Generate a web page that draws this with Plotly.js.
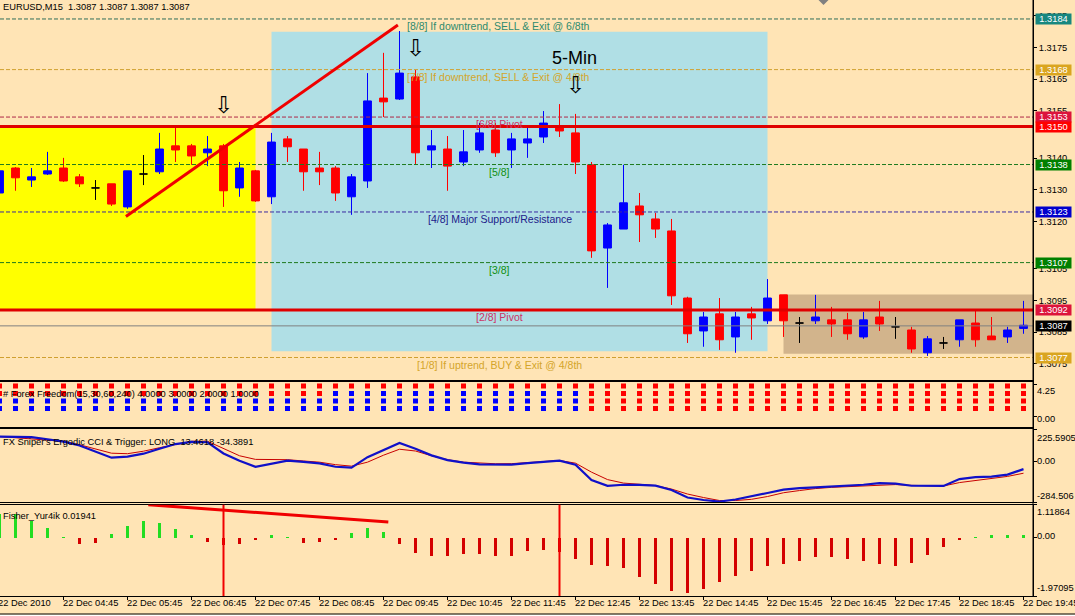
<!DOCTYPE html>
<html><head><meta charset="utf-8">
<script src="https://cdn.plot.ly/plotly-3.0.1.min.js"></script>
<style>html,body{margin:0;padding:0;background:#FFE4B5;}#chart{width:1075px;height:616px;}</style>
</head><body><div id="chart"></div>
<script>
// ---------- DATA ----------
const times = ['03:45','04:00','04:15','04:30','04:45','05:00','05:15','05:30','05:45','06:00','06:15','06:30','06:45','07:00','07:15','07:30','07:45','08:00','08:15','08:30','08:45','09:00','09:15','09:30','09:45','10:00','10:15','10:30','10:45','11:00','11:15','11:30','11:45','12:00','12:15','12:30','12:45','13:00','13:15','13:30','13:45','14:00','14:15','14:30','14:45','15:00','15:15','15:30','15:45','16:00','16:15','16:30','16:45','17:00','17:15','17:30','17:45','18:00','18:15','18:30','18:45','19:00','19:15','19:30','19:45'];

const openP = [1.31290,1.31369,1.31331,1.31350,1.31369,1.31341,1.31306,1.31319,1.31246,1.31350,1.31357,1.31439,1.31439,1.31417,1.31439,1.31306,1.31360,1.31278,1.31461,1.31429,1.31369,1.31369,1.31278,1.31328,1.31590,1.31587,1.31657,1.31426,1.31429,1.31388,1.31426,1.31489,1.31426,1.31448,1.31467,1.31499,1.31480,1.31379,1.31116,1.31176,1.31249,1.31208,1.31170,1.30958,1.30854,1.30908,1.30835,1.30908,1.30886,1.30968,1.30879,1.30886,1.30889,1.30889,1.30835,1.30898,1.30867,1.30857,1.30785,1.30816,1.30826,1.30879,1.30838,1.30835,1.30862];
const highP = [1.31366,1.31372,1.31369,1.31420,1.31401,1.31350,1.31331,1.31319,1.31360,1.31410,1.31480,1.31496,1.31445,1.31470,1.31445,1.31388,1.31363,1.31480,1.31470,1.31429,1.31420,1.31375,1.31350,1.31669,1.31733,1.31802,1.31679,1.31489,1.31470,1.31489,1.31511,1.31511,1.31480,1.31496,1.31549,1.31571,1.31540,1.31388,1.31195,1.31379,1.31290,1.31227,1.31208,1.30962,1.30914,1.30958,1.30914,1.30930,1.31018,1.30968,1.30898,1.30968,1.30930,1.30911,1.30914,1.30949,1.30898,1.30867,1.30838,1.30835,1.30889,1.30920,1.30898,1.30867,1.30949];
const lowP = [1.31280,1.31297,1.31309,1.31347,1.31325,1.31309,1.31268,1.31249,1.31240,1.31315,1.31350,1.31388,1.31379,1.31375,1.31246,1.31278,1.31262,1.31255,1.31388,1.31297,1.31315,1.31265,1.31221,1.31306,1.31530,1.31584,1.31379,1.31369,1.31297,1.31375,1.31417,1.31404,1.31369,1.31401,1.31448,1.31467,1.31350,1.31085,1.30990,1.31176,1.31135,1.31148,1.30936,1.30816,1.30804,1.30794,1.30785,1.30826,1.30876,1.30835,1.30816,1.30876,1.30835,1.30826,1.30829,1.30854,1.30829,1.30785,1.30775,1.30797,1.30804,1.30804,1.30826,1.30816,1.30845];
const closeP = [1.31360,1.31338,1.31341,1.31360,1.31328,1.31319,1.31306,1.31255,1.31360,1.31350,1.31429,1.31426,1.31407,1.31429,1.31297,1.31369,1.31265,1.31451,1.31436,1.31357,1.31357,1.31290,1.31341,1.31581,1.31578,1.31669,1.31417,1.31439,1.31375,1.31420,1.31480,1.31417,1.31461,1.31461,1.31511,1.31486,1.31388,1.31107,1.31189,1.31259,1.31221,1.31176,1.30965,1.30845,1.30898,1.30826,1.30898,1.30895,1.30958,1.30886,1.30879,1.30898,1.30876,1.30845,1.30889,1.30876,1.30867,1.30797,1.30829,1.30816,1.30889,1.30826,1.30826,1.30857,1.30872];

// Forex Freedom rows (R = red / down, B = blue / up), value 4 row at top
const ffRow4 = 'RRRRRRRRRRRRRRRRRRRRRRRRRRRRRRRRRRRRRRRRRRRRRRRRRRRRRRRRRRRRRRRRR';
const ffRow3 = 'RRRRRRRRRRRRRRRRRRRRRBBBBBBBBBBBBBBBBRRRRRRRRRRRRRRRRRRRRRRRRRRRR';
const ffRow2 = 'BBBBBBBBBBBBBBBBBBBBBBBBBBBBBBBBBBBBBRRRRRRRRRRRRRRRRRRRRRRRRRRRR';
const ffRow1 = 'BBBBBBBBBBBBBBBBBBBBBBBBBBBBBBBBBBBBBRRRRRRRRRRRRRRRRRRRRRRRRRRRR';

const ergodic = [174.6,172.5,170.4,155.7,139.6,111.7,68.4,26.4,33.4,54.4,88.8,122.2,136.9,134.7,55.8,5.5,-37.9,-16.9,5.5,-3.6,-14.1,-37.2,-43.5,29.9,80.2,129.2,89.3,42.5,9.0,-8.5,-20.4,-22.5,-21.8,-12.0,-1.5,5.5,-22.5,-130.8,-170.6,-163.6,-164.3,-169.9,-200.7,-253.1,-270.5,-281.0,-267.0,-246.1,-221.6,-197.2,-186.7,-181.8,-176.2,-171.3,-163.6,-152.5,-156.0,-170.6,-172.0,-172.0,-123.8,-109.8,-106.3,-92.4,-54.0];
const trigger = [174.6,167.6,160.6,152.2,141.7,117.3,85.8,57.9,54.4,71.9,96.3,117.3,141.7,141.7,88.8,39.9,14.5,12.1,12.4,3.4,-5.0,-22.5,-33.0,-5.0,43.9,85.8,73.2,39.9,12.4,-5.0,-12.0,-16.2,-15.5,-7.1,0.6,6.9,-12.0,-74.9,-127.3,-151.8,-160.2,-169.2,-193.7,-228.6,-253.1,-274.1,-274.1,-265.7,-246.1,-219.5,-204.2,-190.2,-181.8,-176.2,-173.4,-167.1,-162.2,-167.8,-172.0,-172.0,-148.2,-133.6,-120.3,-105.0,-82.6];
const fisher = [0.82,0.80,0.58,0.33,0.03,-0.21,-0.17,0.12,0.41,0.58,0.49,0.29,0.08,-0.14,-0.26,-0.21,-0.09,0.08,0.03,-0.17,-0.13,-0.08,0.15,0.32,0.18,-0.21,-0.53,-0.62,-0.62,-0.56,-0.56,-0.61,-0.61,-0.45,-0.41,-0.49,-0.72,-0.93,-0.97,-1.01,-1.32,-1.56,-1.81,-1.88,-1.72,-1.50,-1.29,-1.11,-0.97,-0.90,-0.80,-0.66,-0.66,-0.72,-0.78,-0.88,-0.97,-0.84,-0.58,-0.32,-0.09,0.03,0.08,0.09,0.11];

// Murrey math levels
const levelPrices = [1.3184,1.3168,1.3153,1.3138,1.3123,1.3107,1.3092,1.3077];
const levelLabels = ['[8/8] If downtrend, SELL & Exit @ 6/8th','[7/8] If downtrend, SELL & Exit @ 4/8th','[6/8] Pivot','[5/8]','[4/8] Major Support/Resistance','[3/8]','[2/8] Pivot','[1/8] If uptrend, BUY & Exit @ 4/8th'];
const pivotPrices = [1.3150,1.3092];
const bidPrice = 1.3087;
const boxPrices = [1.3184,1.3168,1.3153,1.3150,1.3138,1.3123,1.3107,1.3092,1.3087,1.3077];
const boxTexts  = ['1.3184','1.3168','1.3153','1.3150','1.3138','1.3123','1.3107','1.3092','1.3087','1.3077'];

// price-scale tick labels
const priceTicks = [1.3185,1.3175,1.3165,1.3155,1.3140,1.3130,1.3120,1.3105,1.3095,1.3085,1.3075];

// time-axis labels
const timeTickAt = ['03:45','04:45','05:45','06:45','07:45','08:45','09:45','10:45','11:45','12:45','13:45','14:45','15:45','16:45','17:45','18:45','19:45'];
const timeTickText = ['22 Dec 2010','22 Dec 04:45','22 Dec 05:45','22 Dec 06:45','22 Dec 07:45','22 Dec 08:45','22 Dec 09:45','22 Dec 10:45','22 Dec 11:45','22 Dec 12:45','22 Dec 13:45','22 Dec 14:45','22 Dec 15:45','22 Dec 16:45','22 Dec 17:45','22 Dec 18:45','22 Dec 19:45'];

// rectangles (start time, end time, low, high)
const zoneStart = ['03:15','08:00','16:00'];
const zoneEnd   = ['07:45','15:45','21:00'];
const zoneLow   = [1.3092,1.3079,1.30782];
const zoneHigh  = [1.3150,1.3180,1.30969];

// trend lines / arrows (bar index, value)
const trendMainX = [7.9, 24.9], trendMainY = [1.31216, 1.31821];
const trendFishX = [9.3, 24.3], trendFishY = [1.12, 0.53];
const fisherMarks = ['07:15','12:30'];
const arrowAt = ['07:15','10:15','12:45'];
const arrowPrice = [1.31569,1.31748,1.31632];

// ---------- BUILD ----------
const F = 'Liberation Sans, Arial, sans-serif';
const BG = '#FFE4B5';
const PH = 596;                       // plot-area height in px
const pp = p => 1 - p / PH;          // pixel row -> paper fraction
const idx = t => times.indexOf(t);
const tIdx = t => { const i = times.indexOf(t); if (i >= 0) return i; const [h,m] = t.split(':').map(Number); return (h*60+m - (3*60+45))/15; };
const xIdx = times.map((t, i) => i);
const XR = [0.03125, 64.59375];

function subset(cond) {
  const o = {x:[],open:[],high:[],low:[],close:[]};
  for (let i = 0; i < times.length; i++) if (cond(openP[i], closeP[i])) {
    o.x.push(i); o.open.push(openP[i]); o.high.push(highP[i]); o.low.push(lowP[i]); o.close.push(closeP[i]);
  }
  return o;
}
function candle(s, col) {
  return {type:'candlestick', x:s.x, open:s.open, high:s.high, low:s.low, close:s.close,
    xaxis:'x', yaxis:'y', whiskerwidth:0, hoverinfo:'skip', showlegend:false,
    increasing:{line:{color:col,width:1}, fillcolor:col},
    decreasing:{line:{color:col,width:1}, fillcolor:col}};
}
const traces = [
  candle(subset((o,c)=>c>o), '#0000FF'),
  candle(subset((o,c)=>c<o), '#FF0000'),
  candle(subset((o,c)=>c===o), '#000000')
];

[[ffRow4,4],[ffRow3,3],[ffRow2,2],[ffRow1,1]].forEach(([row, v]) => {
  ['R','B'].forEach(ch => {
    const xs = [], ys = [];
    row.split('').forEach((c, i) => { if (c === ch) { xs.push(i); ys.push(v); } });
    traces.push({type:'scatter', mode:'markers', x:xs, y:ys, xaxis:'x2', yaxis:'y2',
      marker:{symbol:'square', size:5, color: ch === 'R' ? '#FF0000' : '#0000FF', line:{width:0}},
      hoverinfo:'skip', showlegend:false});
  });
});

traces.push({type:'scatter', mode:'lines', x:xIdx, y:trigger, xaxis:'x3', yaxis:'y3',
  line:{color:'#C80000', width:1}, hoverinfo:'skip', showlegend:false});
traces.push({type:'scatter', mode:'lines', x:xIdx, y:ergodic, xaxis:'x3', yaxis:'y3',
  line:{color:'#1010C8', width:2.2}, hoverinfo:'skip', showlegend:false});

traces.push({type:'bar', x:xIdx, y:fisher, xaxis:'x4', yaxis:'y4', width:0.22,
  marker:{color: fisher.map(v => v > 0 ? '#22DD22' : '#D40000'), line:{width:0}},
  hoverinfo:'skip', showlegend:false});

// ---------- SHAPES ----------
const shapes = [];
const zoneColors = ['#FFFF00','#B0DFE5','#D2B48C'];
zoneStart.forEach((s, i) => shapes.push({type:'rect', xref:'x', yref:'y', layer:'below',
  x0:tIdx(s), x1:tIdx(zoneEnd[i]), y0:zoneLow[i], y1:zoneHigh[i], fillcolor:zoneColors[i], line:{width:0}}));

const levelLineColors = ['#2F6F5A','#D0A030','#B02848','#1E7A1E','#3A2AA0','#1E7A1E','#C02040','#D0A030'];
levelPrices.forEach((p, i) => shapes.push({type:'line', xref:'paper', yref:'y', x0:0, x1:1, y0:p, y1:p,
  line:{color:levelLineColors[i], width:1, dash:'4px,2px'}}));
pivotPrices.forEach(p => shapes.push({type:'line', xref:'paper', yref:'y', x0:0, x1:1, y0:p, y1:p,
  line:{color:'#E00000', width:3}}));
shapes.push({type:'line', xref:'paper', yref:'y', x0:0, x1:1, y0:bidPrice, y1:bidPrice, line:{color:'#808080', width:1}});
shapes.push({type:'line', xref:'x', yref:'y', x0:trendMainX[0], x1:trendMainX[1], y0:trendMainY[0], y1:trendMainY[1],
  line:{color:'#F00000', width:3}});
shapes.push({type:'line', xref:'x4', yref:'y4', x0:trendFishX[0], x1:trendFishX[1], y0:trendFishY[0], y1:trendFishY[1],
  line:{color:'#F00000', width:3}});
fisherMarks.forEach(t => shapes.push({type:'line', xref:'x4', yref:'y4 domain', x0:idx(t), x1:idx(t), y0:0, y1:1,
  line:{color:'#F00000', width:2}}));
// chart-shift marker at top
shapes.push({type:'path', xref:'x', yref:'paper', xsizemode:'pixel', ysizemode:'pixel', xanchor:51.5, yanchor:1,
  path:'M-5,0 L5,0 L0,-5 Z', fillcolor:'#808080', line:{width:0}});
// right price-scale border & bottom frame
shapes.push({type:'line', xref:'paper', yref:'paper', x0:1, x1:1, y0:0, y1:1, line:{color:'#000', width:1}});
shapes.push({type:'rect', xref:'paper', yref:'paper', x0:-0.01, x1:1.05, y0:pp(614.5), y1:pp(640), fillcolor:'#FFFFFF', line:{width:0}});
shapes.push({type:'line', xref:'paper', yref:'paper', x0:-0.01, x1:1.05, y0:pp(614), y1:pp(614), line:{color:'#000', width:1}});

// ---------- ANNOTATIONS ----------
const ann = [];
const txt = (o) => Object.assign({showarrow:false, borderpad:0, font:{family:F, size:9.3, color:'#000'}}, o);

ann.push(txt({xref:'paper', yref:'paper', x:0, xshift:2, y:pp(6.7), xanchor:'left', yanchor:'middle', text:'EURUSD,M15  1.3087 1.3087 1.3087 1.3087'}));
ann.push(txt({xref:'paper', yref:'paper', x:0, xshift:2, y:pp(393.7), xanchor:'left', yanchor:'middle', text:'# Forex Freedom(15,30,60,240) 4.0000 3.0000 2.0000 1.0000'}));
ann.push(txt({xref:'paper', yref:'paper', x:0, xshift:2, y:pp(441.5), xanchor:'left', yanchor:'middle', text:"FX Sniper's Ergodic CCI & Trigger: LONG  13.4618 -34.3891"}));
ann.push(txt({xref:'paper', yref:'paper', x:0, xshift:2, y:pp(515.5), xanchor:'left', yanchor:'middle', text:'Fisher_Yur4ik 0.01941'}));

const levelLabelX = [25.4,25.4,29.7,30.5,26.7,30.5,29.7,26.0];
const levelTextColors = ['#2E8B6E','#D4A52A','#CC3366','#109010','#20208A','#109010','#CC3366','#D4A52A'];
levelLabels.forEach((t, i) => ann.push(txt({xref:'x', yref:'y', x:levelLabelX[i], y:levelPrices[i], yshift:-7,
  xanchor:'left', yanchor:'middle', text:t, font:{family:F, size:10.5, color:levelTextColors[i]}})));

const boxColors = ['#18877F','#DAA520','#DC143C','#FF0000','#008000','#0000CD','#008000','#DC143C','#000000','#DAA520'];
boxPrices.forEach((p, i) => ann.push(txt({xref:'paper', yref:'y', x:1, xshift:2, y:p, xanchor:'left', yanchor:'middle',
  text:boxTexts[i], bgcolor:boxColors[i], width:35, height:10, font:{family:F, size:9.3, color:'#FFFFFF'}})));

arrowAt.forEach((t, i) => ann.push(txt({xref:'x', yref:'y', x:idx(t), y:arrowPrice[i], xanchor:'center', yanchor:'middle',
  text:'⇩', font:{family:'DejaVu Sans', size:23, color:'#000'}})));
ann.push(txt({xref:'x', yref:'y', x:35.94, y:1.31717, xanchor:'center', yanchor:'middle', text:'5-Min',
  font:{family:F, size:18, color:'#000'}}));

const sideLabels = [
  ['y2',4.25,'4.25',-7],['y2',0,'0.00',-3],
  ['y3',225.5905,'225.5905',-9],['y3',0,'0.00',0],['y3',-284.506,'-284.506',6],
  ['y4',1.11864,'1.11864',-7],['y4',0,'0.00',2],['y4',-1.97095,'-1.97095',8]];
sideLabels.forEach(([ax, v, t, s]) => ann.push(txt({xref:'paper', yref:ax, x:1, xshift:3, y:v, yshift:s,
  xanchor:'left', yanchor:'middle', text:t})));

timeTickAt.forEach((t, i) => {
  const inRange = idx(t) > XR[0];
  ann.push(txt(inRange
    ? {xref:'x4', yref:'paper', x:idx(t), xshift:-2, y:pp(602.5), xanchor:'left', yanchor:'middle', text:timeTickText[i]}
    : {xref:'paper', yref:'paper', x:0, xshift:-3, y:pp(602.5), xanchor:'left', yanchor:'middle', text:timeTickText[i]}));
});

// ---------- LAYOUT ----------
const xBase = {range:XR, showgrid:false, zeroline:false, showticklabels:false, fixedrange:true,
  showline:true, linecolor:'#000', linewidth:1, ticks:''};
const yBase = {side:'right', showgrid:false, zeroline:false, fixedrange:true, showline:true, linecolor:'#000', linewidth:1,
  ticks:'outside', ticklen:3, tickcolor:'#000', showticklabels:false};

const layout = {
  width:1075, height:616, margin:{l:0, r:42, t:0, b:20},
  paper_bgcolor:BG, plot_bgcolor:BG, showlegend:false,
  font:{family:F, size:9.3, color:'#000'},
  xaxis: Object.assign({}, xBase, {anchor:'y', rangeslider:{visible:false}}),
  xaxis2: Object.assign({}, xBase, {anchor:'y2', mirror:true}),
  xaxis3: Object.assign({}, xBase, {anchor:'y3', mirror:true}),
  xaxis4: Object.assign({}, xBase, {anchor:'y4', mirror:true, ticks:'outside', ticklen:3, tickcolor:'#000',
           tickvals: timeTickAt.map(idx)}),
  yaxis: Object.assign({}, yBase, {anchor:'x', domain:[pp(379.5), 1], range:[1.307005, 1.3190],
           tickvals:priceTicks, ticktext:priceTicks.map(v => v.toFixed(4)), showticklabels:true,
           tickfont:{family:F, size:9.3, color:'#000'}}),
  yaxis2: Object.assign({}, yBase, {anchor:'x2', domain:[pp(426.7), pp(381.5)], range:[-1.427, 4.6], tickvals:[4.25, 0]}),
  yaxis3: Object.assign({}, yBase, {anchor:'x3', domain:[pp(502), pp(429.3)], range:[-284.506, 225.5905], tickvals:[225.5905, 0, -284.506]}),
  yaxis4: Object.assign({}, yBase, {anchor:'x4', domain:[0, pp(504.7)], range:[-1.97095, 1.11864], tickvals:[1.11864, 0, -1.97095]}),
  bargap:0,
  shapes: shapes,
  annotations: ann
};

Plotly.newPlot('chart', traces, layout, {staticPlot:true, displayModeBar:false});
</script>
</body></html>
